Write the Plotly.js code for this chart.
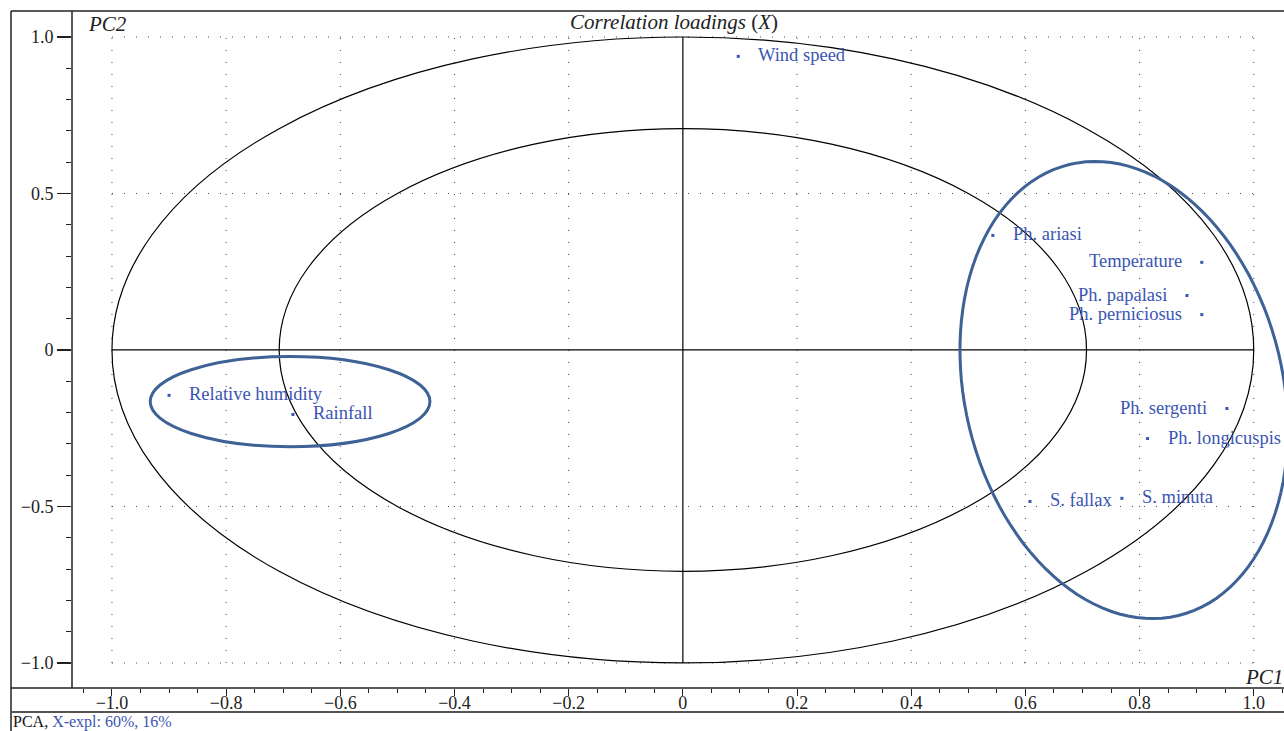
<!DOCTYPE html>
<html>
<head>
<meta charset="utf-8">
<script src="https://cdn.plot.ly/plotly-3.0.1.min.js"></script>
<style>html,body{margin:0;padding:0;background:#fff;}#chart{width:1284px;height:731px;}</style>
</head>
<body>
<div id="chart"></div>
<script>
// ---- data ----
const variables = ["Wind speed","Ph. ariasi","Temperature","Ph. papalasi","Ph. perniciosus",
  "Ph. sergenti","Ph. longicuspis","S. fallax","S. minuta","Relative humidity","Rainfall"];
const pc1 = [0.097, 0.543, 0.909, 0.883, 0.909, 0.953, 0.814, 0.608, 0.769, -0.900, -0.683];
const pc2 = [0.938, 0.366, 0.280, 0.174, 0.113, -0.187, -0.283, -0.484, -0.474, -0.145, -0.206];
const xTickVals = [-1.0,-0.8,-0.6,-0.4,-0.2,0,0.2,0.4,0.6,0.8,1.0];
const xTickText = ["\u22121.0","\u22120.8","\u22120.6","\u22120.4","\u22120.2","0","0.2","0.4","0.6","0.8","1.0"];
const yTickVals = [-1.0,-0.5,0,0.5,1.0];
const yTickText = ["\u22121.0","\u22120.5","0","0.5","1.0"];

// ---- style ----
const labelSide = ["r","r","l","l","l","l","r","r","r","r","r"];
const blue = "#3b55b2";
const ringBlue = "#3e6196";
const FONT = "Liberation Serif, DejaVu Serif, serif";
const xr = [-1.070, 1.053], yr = [-1.080, 1.083];
const L = 72, R = 0, T = 11, B = 43, W = 1284, H = 731;
const pw = W - L - R, ph = H - T - B;
const pxX = pw / (xr[1] - xr[0]), pxY = ph / (yr[1] - yr[0]);
function px2paperX(p){ return (p - L) / pw; }
function py2paperY(p){ return (H - B - p) / ph; }

function ellipsePath(cx, cy, aPx, bPx, phiDeg){
  const phi = phiDeg * Math.PI / 180, n = 120; let s = "";
  for (let i = 0; i <= n; i++){
    const t = 2 * Math.PI * i / n;
    const dx = aPx*Math.cos(t)*Math.cos(phi) - bPx*Math.sin(t)*Math.sin(phi);
    const dy = aPx*Math.cos(t)*Math.sin(phi) + bPx*Math.sin(t)*Math.cos(phi);
    s += (i === 0 ? "M" : "L") + (cx + dx/pxX).toFixed(4) + "," + (cy + dy/pxY).toFixed(4);
  }
  return s + "Z";
}

const shapes = [];
const dotDash = "1px,11px";
xTickVals.forEach(v => { if (v !== 0) shapes.push({type:"line", xref:"x", yref:"y", x0:v, x1:v, y0:-1, y1:1,
  line:{color:"#444", width:1, dash:dotDash}, layer:"below"}); });
[-1,-0.5,0.5,1].forEach(v => shapes.push({type:"line", xref:"x", yref:"y", x0:-1, x1:1, y0:v, y1:v,
  line:{color:"#444", width:1, dash:dotDash}, layer:"below"}));
shapes.push({type:"line", xref:"x", yref:"y", x0:0, x1:0, y0:-1, y1:1, line:{color:"#000", width:1.2}});
shapes.push({type:"line", xref:"x", yref:"y", x0:-1, x1:1, y0:0, y1:0, line:{color:"#000", width:1.2}});
shapes.push({type:"circle", xref:"x", yref:"y", x0:-1, x1:1, y0:-1, y1:1, line:{color:"#000", width:1.2}});
const r2 = Math.SQRT1_2;
shapes.push({type:"circle", xref:"x", yref:"y", x0:-r2, x1:r2, y0:-r2, y1:r2, line:{color:"#000", width:1.2}});
// hand-drawn cluster rings
shapes.push({type:"circle", xref:"x", yref:"y", x0:-0.933, x1:-0.443, y0:-0.021, y1:-0.309,
  line:{color:ringBlue, width:3}});
shapes.push({type:"path", xref:"x", yref:"y", path:ellipsePath(0.7725, -0.128, 232, 159, 103.6),
  line:{color:ringBlue, width:3}});
// frame
const fl = (x0,y0,x1,y1,c,w) => shapes.push({type:"line", xref:"paper", yref:"paper",
  x0:px2paperX(x0), x1:px2paperX(x1), y0:py2paperY(y0), y1:py2paperY(y1), line:{color:c, width:w}});
fl(11,11,1284,11,"#222",1.5);
fl(11,11,11,731,"#222",1.5);
fl(72,11,72,688,"#222",1.5);
fl(11,688,1284,688,"#222",1.5);
fl(11,712,1284,712,"#555",2);

const annotations = variables.map((v,i) => ({
  x: pc1[i], y: pc2[i], xref:"x", yref:"y", text: v, showarrow:false,
  xanchor: labelSide[i] === "r" ? "left" : "right", yanchor:"middle",
  xshift: labelSide[i] === "r" ? 18 : -18, yshift: 1,
  font:{family:FONT, size:18.5, color:blue}
}));
annotations.push({xref:"paper", yref:"paper", x:px2paperX(674), y:py2paperY(22), xanchor:"center", yanchor:"middle",
  text:"<i>Correlation loadings</i> (<i>X</i>)", showarrow:false, font:{family:FONT, size:21, color:"#222"}});
annotations.push({xref:"paper", yref:"paper", x:px2paperX(86), y:py2paperY(24), xanchor:"left", yanchor:"middle",
  text:"<i>PC2</i>", showarrow:false, font:{family:FONT, size:21, color:"#222"}});
annotations.push({xref:"paper", yref:"paper", x:px2paperX(1284), y:py2paperY(677), xanchor:"right", yanchor:"middle",
  text:"<i>PC1</i>", showarrow:false, borderpad:0, font:{family:FONT, size:21, color:"#222"}});
annotations.push({xref:"paper", yref:"paper", x:px2paperX(12), y:py2paperY(721.5), xanchor:"left", yanchor:"middle",
  text:"PCA, <span style='color:"+blue+"'>X-expl: 60%, 16%</span>", showarrow:false, borderpad:0,
  font:{family:FONT, size:16, color:"#111"}});

const trace = {
  x: pc1, y: pc2, text: variables, type:"scatter", mode:"markers",
  marker:{symbol:"square", size:3, color:blue}, hoverinfo:"text", cliponaxis:false
};

const layout = {
  width: W, height: H, margin:{l:L, r:R, t:T, b:B, pad:0},
  paper_bgcolor:"#fff", plot_bgcolor:"#fff", showlegend:false,
  font:{family:FONT, color:"#222"},
  xaxis:{range:xr, showgrid:false, zeroline:false, showline:false,
    ticks:"outside", ticklen:7, tickwidth:1, tickcolor:"#222", ticklabelstandoff:-9,
    tickvals:xTickVals, ticktext:xTickText, tickfont:{family:FONT, size:18, color:"#222"},
    minor:{dtick:0.05, tick0:0, ticks:"outside", ticklen:4, tickwidth:1, tickcolor:"#222", showgrid:false}},
  yaxis:{range:yr, showgrid:false, zeroline:false, showline:false,
    ticks:"outside", ticklen:14, tickwidth:1.2, tickcolor:"#222",
    tickvals:yTickVals, ticktext:yTickText, tickfont:{family:FONT, size:18, color:"#222"},
    minor:{dtick:0.1, tick0:0, ticks:"outside", ticklen:5, tickwidth:1, tickcolor:"#222", showgrid:false}},
  shapes: shapes, annotations: annotations
};
Plotly.newPlot("chart", [trace], layout, {displayModeBar:false, staticPlot:true});
</script>
</body>
</html>
